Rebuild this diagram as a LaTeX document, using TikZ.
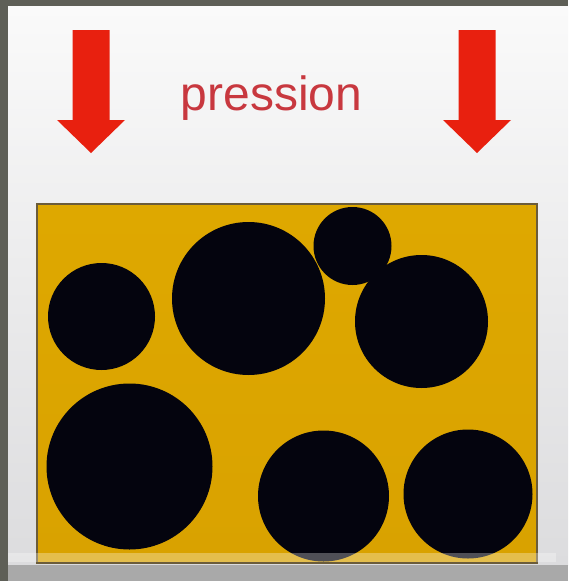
\documentclass[tikz,border=0pt]{standalone}
\usepackage{fontspec}
\setmainfont{Liberation Sans}
\definecolor{framegray}{HTML}{5E5F57}
\definecolor{paperhi}{HTML}{FAFAFA}
\definecolor{paperlo}{HTML}{DCDCDE}
\definecolor{floorgray}{HTML}{A9A9A9}
\definecolor{goldfill}{HTML}{DEA800}
\definecolor{goldlo}{HTML}{D9A200}
\definecolor{boxedge}{HTML}{6B5C3A}
\definecolor{grainblack}{HTML}{04040E}
\definecolor{pressred}{HTML}{E8200F}
\definecolor{labelred}{HTML}{C8383F}
\tikzset{
  grain/.style={fill=grainblack},
  pressarrow/.style={fill=pressred},
}
\begin{document}
\begin{tikzpicture}[x=1pt,y=-1pt]
    \useasboundingbox (0,0) rectangle (568,581);
    % frame and background
    \fill[framegray] (0,0) rectangle (568,581);
    \shade[top color=paperhi,bottom color=paperlo] (8,6) rectangle (568,565);
    \fill[floorgray] (8,565) rectangle (568,581);
    % the two arrows
    \foreach \cx in {91,477}{
        \fill[pressarrow] (\cx-18.5,30) -- (\cx+18.5,30) -- (\cx+18.5,120)
            -- (\cx+34,120) -- (\cx,153) -- (\cx-34,120) -- (\cx-18.5,120) -- cycle;
    }
    \node[anchor=base,text=labelred,inner sep=0pt,
          font=\fontsize{48}{48}\selectfont] (label) at (271.5,110) {pression};
    % box of grains
    \shade[top color=goldfill,bottom color=goldlo] (37,204) rectangle (537,563);
    \fill[grain] (101.5,316.5) circle (53.5pt);
    \fill[grain] (248.5,298.5) circle (76.5pt);
    \fill[grain] (352.5,246) circle (39pt);
    \fill[grain] (421.5,321.5) circle (66.5pt);
    \fill[grain] (129.5,466.5) circle (83pt);
    \fill[grain] (323.5,496) circle (65.5pt);
    \fill[grain] (468,494) circle (64.5pt);
    \draw[boxedge,line width=1.5pt] (37,204) rectangle (537,563);
    \fill[white,opacity=0.3] (8,553) rectangle (556,562);
\end{tikzpicture}
\end{document}
